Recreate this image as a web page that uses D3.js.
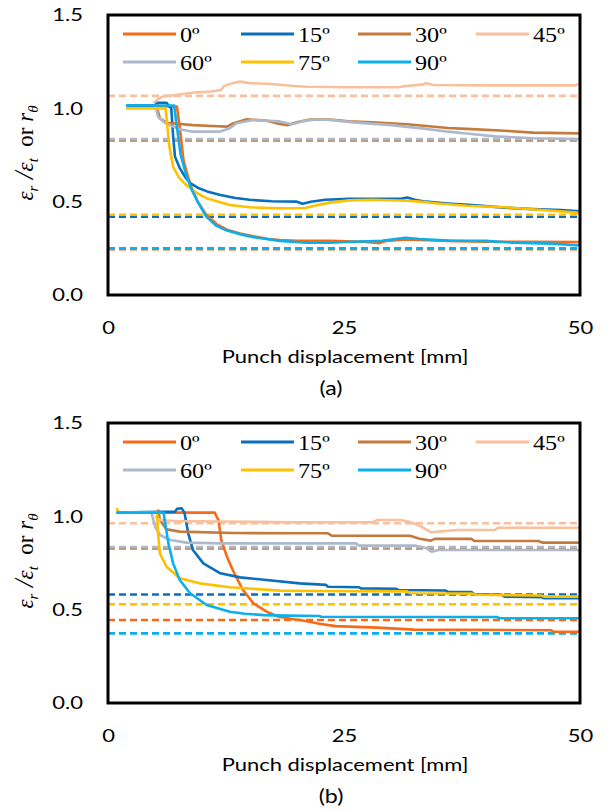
<!DOCTYPE html>
<html><head><meta charset="utf-8">
<script src="https://cdn.jsdelivr.net/npm/d3@7"></script>
<style>html,body{margin:0;padding:0;background:#fff}</style>
</head><body>
<script>
// ---------- data ----------
const angleLabels = ["0º","15º","30º","45º","60º","75º","90º"];
const xTicks = [0, 25, 50];
const yTicks = [0.0, 0.5, 1.0, 1.5];
const panelLabels = ["(a)", "(b)"];

// r-values (dashed reference lines), order 0..90º
const rA = [0.245, 0.420, 0.828, 1.067, 0.835, 0.430, 0.250];
const rB = [0.445, 0.581, 0.828, 0.963, 0.835, 0.529, 0.373];

// panel (a): ε_r/ε_t vs punch displacement
const a0 = [[2,1.01],[7.3,1.01],[7.6,0.9],[8.0,0.72],[8.5,0.63],[8.9,0.57],[9.5,0.5],[10.4,0.43],[11.5,0.38],[12.6,0.35],[14,0.33],[15.4,0.315],[17,0.30],[18.2,0.295],[20,0.29],[23.5,0.29],[27,0.285],[28.8,0.278],[29.5,0.29],[31.5,0.298],[33,0.295],[36,0.29],[40,0.285],[45,0.285],[50,0.284]];
const a15 = [[2,1.015],[5.0,1.015],[5.2,1.03],[6.2,1.03],[6.4,1.015],[6.7,1.0],[6.9,0.85],[7.1,0.74],[7.6,0.68],[8.2,0.63],[8.7,0.6],[9.5,0.575],[10.5,0.555],[11.9,0.536],[13.5,0.52],[15,0.51],[17.3,0.502],[20,0.5],[20.6,0.489],[21.5,0.5],[23,0.51],[25.5,0.515],[28,0.515],[31,0.515],[31.7,0.522],[32.5,0.51],[33.7,0.5],[36,0.49],[39,0.48],[41.9,0.468],[45,0.46],[48,0.455],[50,0.449]];
const a30 = [[5.2,1.0],[5.5,0.946],[6.2,0.923],[7.6,0.916],[9,0.91],[11,0.905],[12.6,0.902],[13.3,0.92],[14.7,0.941],[16.8,0.934],[18.2,0.916],[19,0.91],[20,0.925],[21.4,0.94],[23.5,0.94],[25.5,0.93],[28,0.925],[31.7,0.915],[33.7,0.905],[36,0.895],[38,0.89],[42,0.88],[45,0.87],[50,0.866]];
const a45 = [[4.8,1.027],[5.3,1.05],[5.8,1.063],[7,1.07],[9.1,1.085],[11,1.09],[12,1.099],[12.3,1.12],[13.2,1.135],[14,1.143],[15,1.135],[17.3,1.13],[19.4,1.121],[21,1.116],[25,1.113],[30.8,1.113],[31.5,1.12],[33.3,1.127],[33.7,1.134],[34.5,1.125],[40,1.123],[45,1.123],[49.5,1.123],[50,1.134]];
const a60 = [[5.0,1.02],[5.3,0.955],[6,0.923],[7.6,0.888],[9,0.875],[11.8,0.875],[12.9,0.893],[13.6,0.92],[15.4,0.938],[18.2,0.93],[19.5,0.915],[20.5,0.93],[22,0.94],[23.5,0.938],[26,0.925],[30,0.91],[33.7,0.89],[36,0.875],[38,0.865],[41,0.85],[45,0.84],[50,0.835]];
const a75 = [[1.9,1.0],[6.1,1.0],[6.3,0.9],[6.5,0.795],[6.9,0.687],[7.5,0.63],[8.3,0.589],[9.3,0.55],[10.45,0.518],[12.9,0.482],[15,0.47],[18.2,0.464],[20.9,0.466],[22,0.48],[23.5,0.495],[25.5,0.507],[28,0.51],[31.7,0.505],[33,0.5],[35,0.49],[38,0.478],[42,0.47],[46,0.455],[50,0.44]];
const a90 = [[1.9,1.015],[7.0,1.015],[7.3,0.9],[7.7,0.75],[8.3,0.64],[8.9,0.56],[9.5,0.5],[10.4,0.42],[11.5,0.37],[12.6,0.345],[14,0.325],[15.4,0.31],[18.2,0.29],[21,0.28],[23.5,0.28],[26,0.285],[29,0.29],[31.5,0.307],[33,0.3],[36,0.292],[40,0.29],[43,0.28],[47,0.275],[50,0.266]];

// panel (b)
const b0 = [[1.0,1.02],[11.3,1.02],[11.7,0.98],[12.0,0.873],[12.6,0.784],[13.3,0.703],[14.3,0.605],[15.4,0.534],[16.8,0.489],[18.1,0.462],[19.5,0.45],[20.3,0.445],[21.2,0.437],[22.4,0.425],[24.1,0.412],[28.5,0.404],[32.4,0.393],[46.9,0.39],[47.2,0.382],[50,0.382]];
const b15 = [[0.9,1.02],[7.1,1.025],[7.3,1.04],[7.8,1.043],[8.1,1.02],[8.5,0.909],[9.0,0.82],[10.1,0.748],[11.9,0.695],[14,0.673],[16.8,0.659],[20.3,0.641],[23.1,0.633],[23.3,0.623],[26.6,0.62],[26.8,0.614],[30.5,0.612],[30.8,0.605],[35.7,0.603],[36,0.596],[38.5,0.594],[38.8,0.582],[41.7,0.58],[42,0.569],[45.9,0.567],[46.2,0.561],[50,0.561]];
const b30 = [[5.3,1.037],[5.5,0.98],[6.2,0.93],[7.6,0.918],[13.3,0.911],[19.6,0.909],[23.3,0.909],[23.7,0.896],[32,0.896],[33,0.88],[34.2,0.87],[34.6,0.879],[38.5,0.879],[38.8,0.868],[45.6,0.868],[46,0.859],[50,0.859]];
const b45 = [[5.0,1.0],[5.5,0.98],[7,0.975],[12,0.972],[20,0.968],[28,0.968],[28.5,0.98],[31,0.98],[32,0.97],[33,0.95],[34.2,0.915],[35,0.918],[37,0.927],[41,0.927],[41.3,0.939],[50,0.939]];
const b60 = [[0.9,1.02],[4.6,1.02],[5.0,0.944],[5.5,0.9],[6.6,0.873],[8.3,0.859],[12,0.855],[26.3,0.855],[26.6,0.843],[32.5,0.843],[33.7,0.83],[34.3,0.81],[35,0.82],[50,0.82]];
const b75 = [[0.9,1.043],[1.2,1.02],[5.2,1.02],[5.3,0.909],[5.5,0.80],[6.2,0.73],[7.6,0.668],[9.7,0.641],[12.9,0.62],[18.2,0.602],[21.4,0.6],[31.7,0.598],[32,0.588],[38.5,0.586],[39,0.58],[45.9,0.576],[46.2,0.57],[50,0.57]];
const b90 = [[0.9,1.02],[5.9,1.02],[6.0,0.98],[6.4,0.855],[6.9,0.748],[7.6,0.659],[8.7,0.588],[10.45,0.525],[12.9,0.489],[14.5,0.478],[16.5,0.471],[18.9,0.468],[22.4,0.466],[22.6,0.462],[41.2,0.461],[41.5,0.454],[50,0.454]];

// ---------- styles ----------
const colors = ["#F96A17","#0A70BE","#C57A3D","#F8C09C","#ADB9CA","#FFC000","#0AB0EE"];
const sansFont = "Lato, 'Open Sans', sans-serif";
const serifFont = "'Liberation Serif', 'DejaVu Serif', serif";
const SX = 1.22; // horizontal stretch of the original figure's text

const svg = d3.select("body").append("svg").attr("width", 608).attr("height", 811);

function stretchedText(g, x, y, str, size, anchor) {
  return g.append("text").attr("transform", `translate(${x},${y}) scale(${SX},1)`)
    .attr("text-anchor", anchor).attr("font-family", sansFont).attr("font-size", size)
    .attr("fill", "#000").text(str);
}

function panel(off, seriesList, rvals, label) {
  const x = d3.scaleLinear().domain([0, 50]).range([108, 580]);
  const y = d3.scaleLinear().domain([0, 1.5]).range([295 + off, 15 + off]);
  const g = svg.append("g");

  // dashed r-value lines
  rvals.forEach((r, i) => {
    g.append("line").attr("x1", x(0)).attr("x2", x(50)).attr("y1", y(r)).attr("y2", y(r))
      .attr("stroke", colors[i]).attr("stroke-width", 2.6).attr("stroke-dasharray", "7,4");
  });

  const line = d3.line().x(d => x(d[0])).y(d => y(d[1]));
  seriesList.forEach((s, i) => {
    g.append("path").datum(s).attr("d", line).attr("fill", "none")
      .attr("stroke", colors[i]).attr("stroke-width", 2.6).attr("stroke-linejoin", "round");
  });

  // frame
  g.append("rect").attr("x", x(0)).attr("y", y(1.5)).attr("width", x(50) - x(0)).attr("height", y(0) - y(1.5))
    .attr("fill", "none").attr("stroke", "#000").attr("stroke-width", 3);

  // axes
  const ya = g.append("g").attr("transform", `translate(${x(0)},0)`)
    .call(d3.axisLeft(y).tickValues(yTicks).tickSize(0).tickPadding(25).tickFormat(d3.format(".1f")));
  ya.select(".domain").remove();
  ya.selectAll(".tick text").each(function() {
    const t = d3.select(this);
    const px = +t.attr("x");
    t.attr("x", px / SX).attr("transform", `scale(${SX},1)`);
  }).attr("font-family", sansFont).attr("font-size", 18).attr("fill", "#000");

  const xa = g.append("g").attr("transform", `translate(0,${y(0)})`)
    .call(d3.axisBottom(x).tickValues(xTicks).tickSize(0).tickPadding(26).tickFormat(d3.format("d")));
  xa.select(".domain").remove();
  xa.selectAll(".tick text").attr("transform", `scale(${SX},1)`)
    .attr("font-family", sansFont).attr("font-size", 18).attr("fill", "#000");

  stretchedText(g, 345, 363 + off, "Punch displacement [mm]", 18, "middle");
  stretchedText(g, 331, 395 + off, label, 19, "middle");

  // y title
  const t = g.append("text").attr("transform", `translate(33,${153 + off}) rotate(-90)`)
    .attr("text-anchor", "middle").attr("font-family", serifFont).attr("font-size", 23).attr("fill", "#000");
  t.append("tspan").attr("font-style", "italic").text("ε");
  t.append("tspan").attr("font-style", "italic").attr("font-size", 15).attr("dy", 5).text("r");
  t.append("tspan").attr("dy", -5).attr("font-size", 27).attr("font-style", "italic").text(" /");
  t.append("tspan").attr("font-style", "italic").text("ε");
  t.append("tspan").attr("font-style", "italic").attr("font-size", 15).attr("dy", 5).text("t");
  t.append("tspan").attr("dy", -5).text("\u00a0\u00a0or ");
  t.append("tspan").attr("font-style", "italic").text("r");
  t.append("tspan").attr("font-style", "italic").attr("font-size", 15).attr("dy", 5).text("θ");

  // legend
  const colX = [123, 241, 358, 476];
  const rowY = [34, 62];
  angleLabels.forEach((lab, i) => {
    const cx = colX[i % 4], cy = rowY[Math.floor(i / 4)] + off;
    g.append("line").attr("x1", cx).attr("x2", cx + 53).attr("y1", cy).attr("y2", cy)
      .attr("stroke", colors[i]).attr("stroke-width", 3);
    g.append("text").attr("transform", `translate(${cx + 57},${cy + 8}) scale(1.1,1)`)
      .attr("font-family", serifFont).attr("font-size", 22).attr("fill", "#000").text(lab);
  });
}

panel(0, [a0, a15, a30, a45, a60, a75, a90], rA, panelLabels[0]);
panel(408, [b0, b15, b30, b45, b60, b75, b90], rB, panelLabels[1]);
</script>
</body></html>
